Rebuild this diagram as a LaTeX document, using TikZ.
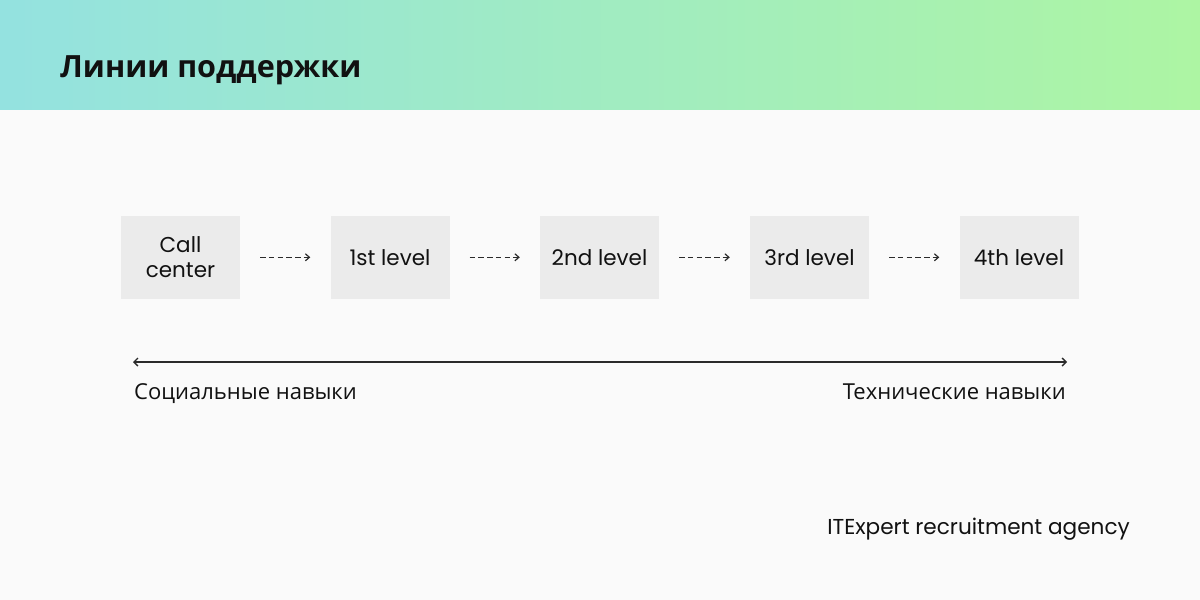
\documentclass[tikz,border=0pt]{standalone}
\usepackage{fontspec}
\setmainfont{Poppins}
\newfontfamily\cyr{Open Sans}
\usetikzlibrary{arrows.meta}
\definecolor{bg}{HTML}{FAFAFA}
\definecolor{hleft}{HTML}{94E2E0}
\definecolor{hright}{HTML}{ADF5A3}
\definecolor{boxfill}{HTML}{EBEBEB}
\definecolor{ink}{HTML}{111111}
\definecolor{arrowc}{HTML}{2A2A2A}
\tikzset{
  x=1pt, y=-1pt,
  levelbox/.style={fill=boxfill, minimum width=119pt, minimum height=82.5pt, inner sep=0pt,
    align=center, font=\fontsize{21.5}{25}\selectfont, text=ink},
  flowarrow/.style={draw=arrowc, line width=1.3pt, dash pattern=on 5.5pt off 3.2pt,
    -{Straight Barb[length=4pt,width=7pt,line width=1.2pt]}, shorten <=20pt, shorten >=20pt},
  scalearrow/.style={draw=arrowc, line width=1.5pt,
    {Straight Barb[length=4pt,width=8pt,line width=1.4pt]}-{Straight Barb[length=4pt,width=8pt,line width=1.4pt]}},
  skill/.style={font=\cyr\fontsize{22}{26}\selectfont, text=ink, inner sep=0pt},
}
\begin{document}
\begin{tikzpicture}
\fill[bg] (0,0) rectangle (1200,600);
\useasboundingbox (0,0) rectangle (1200,600);
\shade[left color=hleft, right color=hright] (0,0) rectangle (1200,109);
\node[anchor=base west, inner sep=0pt, font=\cyr\bfseries\fontsize{30.6}{36}\selectfont, text=ink] (title) at (60,77) {Линии поддержки};

\node[levelbox] (cc) at (180.5,257.3) {Call\\center};
\node[levelbox] (l1) at (390,257.3) {1st level};
\node[levelbox] (l2) at (599.5,257.3) {2nd level};
\node[levelbox] (l3) at (809.5,257.3) {3rd level};
\node[levelbox] (l4) at (1019,257.3) {4th level};

\draw[flowarrow] (cc) -- (l1);
\draw[flowarrow] (l1) -- (l2);
\draw[flowarrow] (l2) -- (l3);
\draw[flowarrow] (l3) -- (l4);

\coordinate (sl) at (133,362);
\coordinate (sr) at (1067,362);
\draw[scalearrow] (sl) -- (sr);

\node[skill, anchor=base west] (soc) at (134,399) {Социальные навыки};
\node[skill, anchor=base east] (tech) at (1066,399) {Технические навыки};

\node[anchor=base east, inner sep=0pt, font=\fontsize{21.6}{26}\selectfont, text=ink] (brand) at (1130,534) {ITExpert recruitment agency};
\end{tikzpicture}
\end{document}
